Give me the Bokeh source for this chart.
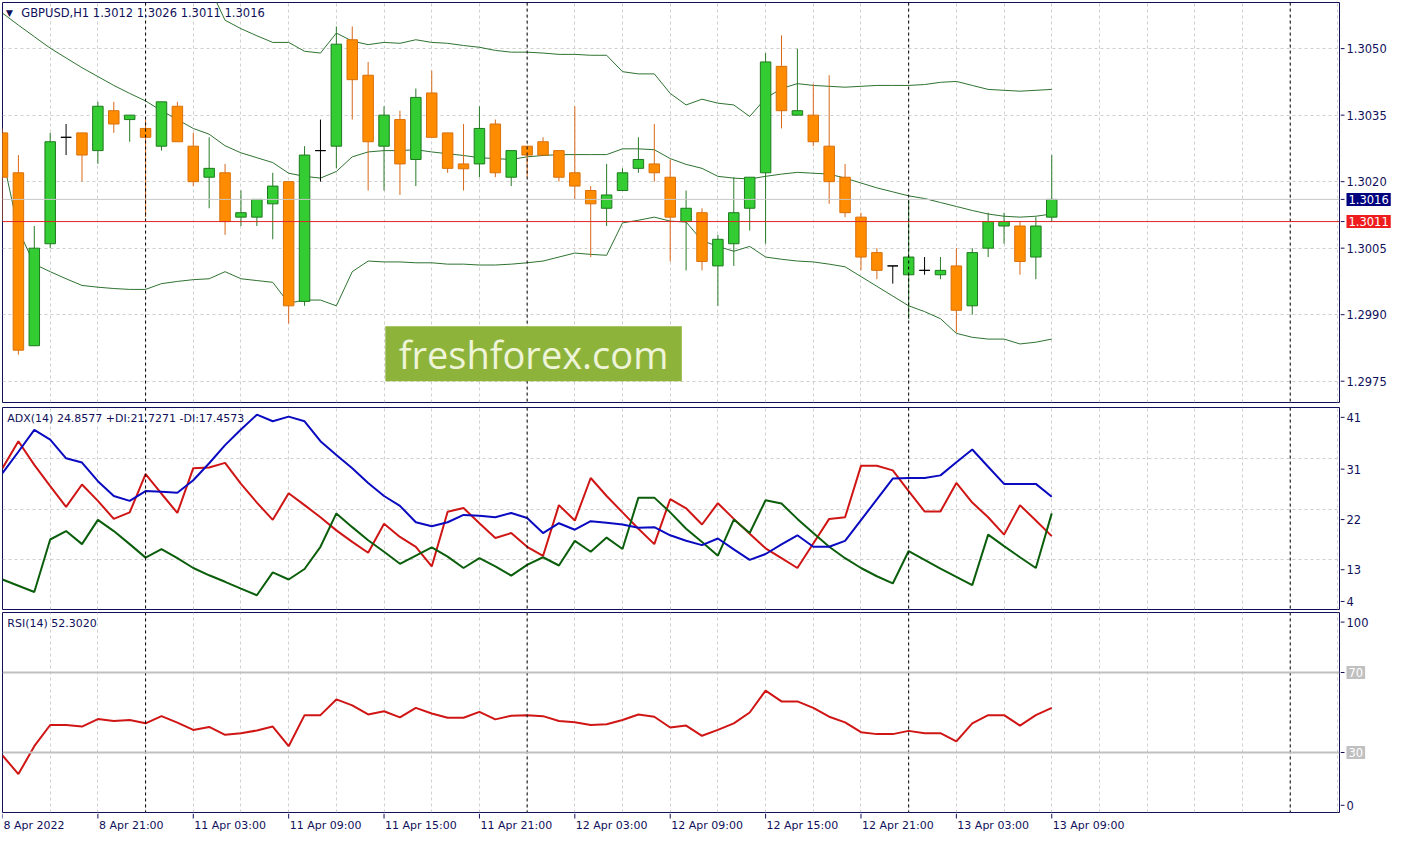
import numpy as np
from bokeh.plotting import figure
from bokeh.models import (Range1d, FixedTicker, Grid, Span, Label, BoxAnnotation,
                          ColumnDataSource, Spacer)
from bokeh.layouts import column, row
from bokeh.embed import file_html
from bokeh.resources import INLINE

# ---------------- data ----------------
symbol_title = "GBPUSD,H1  1.3012 1.3026 1.3011 1.3016"
adx_title = "ADX(14) 24.8577 +DI:21.7271 -DI:17.4573"
rsi_title = "RSI(14) 52.3020"

opens = [1.3031, 1.3022, 1.2983, 1.3006, 1.3030, 1.3031, 1.3027, 1.3036, 1.3034, 1.3032,
         1.3028, 1.3037, 1.3028, 1.3021, 1.3022, 1.3012, 1.3012, 1.3015, 1.3020, 1.2993,
         1.3027, 1.3028, 1.3052, 1.3044, 1.3028, 1.3034, 1.3025, 1.3040, 1.3031, 1.30240,
         1.3024, 1.3033, 1.3021, 1.3028, 1.3029, 1.3027, 1.3022, 1.3018, 1.3014, 1.3018,
         1.3023, 1.3024, 1.3021, 1.3011, 1.3013, 1.3001, 1.3006, 1.3014, 1.3022, 1.3046,
         1.3035, 1.3035, 1.3028, 1.3021, 1.3012, 1.3004, 1.3001, 1.2999, 1.3000, 1.2999,
         1.3001, 1.2992, 1.3005, 1.3010, 1.3010, 1.3003, 1.3012]
highs = [1.3032, 1.3026, 1.3010, 1.3031, 1.3033, 1.3031, 1.3038, 1.3038, 1.3035, 1.3034,
         1.3038, 1.3038, 1.3031, 1.3030, 1.3024, 1.3018, 1.3016, 1.3022, 1.3020, 1.3028,
         1.3034, 1.3055, 1.3055, 1.3047, 1.3037, 1.3036, 1.3041, 1.3045, 1.3031, 1.3033,
         1.3037, 1.3034, 1.3027, 1.3028, 1.3030, 1.3027, 1.3037, 1.3019, 1.3024, 1.3023,
         1.3030, 1.3033, 1.3025, 1.3018, 1.3014, 1.3008, 1.3021, 1.3021, 1.3049, 1.3053,
         1.3050, 1.3042, 1.3044, 1.3024, 1.3013, 1.3005, 1.3001, 1.3016, 1.3003, 1.3003,
         1.3005, 1.3005, 1.3013, 1.3013, 1.3011, 1.3012, 1.3026]
lows = [1.3011, 1.2981, 1.2983, 1.3005, 1.3026, 1.3020, 1.3024, 1.3031, 1.3029, 1.3012,
        1.3027, 1.3029, 1.3019, 1.3014, 1.3008, 1.3010, 1.3010, 1.3007, 1.2988, 1.2992,
        1.3020, 1.3023, 1.3034, 1.3018, 1.3018, 1.3017, 1.3019, 1.3030, 1.3022, 1.3018,
        1.3021, 1.3021, 1.3019, 1.3021, 1.3026, 1.3020, 1.3016, 1.3003, 1.3010, 1.3018,
        1.3022, 1.3020, 1.3002, 1.3000, 1.3000, 1.2992, 1.3001, 1.3009, 1.3006, 1.3032,
        1.3035, 1.3028, 1.3015, 1.3012, 1.3000, 1.2998, 1.2997, 1.2989, 1.2999, 1.2998,
        1.2986, 1.2990, 1.3003, 1.3006, 1.2999, 1.2998, 1.3011]
closes = [1.3021, 1.2982, 1.3005, 1.3029, 1.3030, 1.3026, 1.3037, 1.3033, 1.3035, 1.3030,
          1.3038, 1.3029, 1.3020, 1.3023, 1.3011, 1.3013, 1.3016, 1.3019, 1.2992, 1.3026,
          1.3027, 1.3051, 1.3043, 1.3029, 1.3035, 1.3024, 1.3039, 1.3030, 1.3023, 1.30229,
          1.3032, 1.3022, 1.3027, 1.3026, 1.3026, 1.3021, 1.3019, 1.3015, 1.3017, 1.3022,
          1.3025, 1.3022, 1.3012, 1.3014, 1.3002, 1.3007, 1.3013, 1.3021, 1.3047, 1.3036,
          1.3036, 1.3029, 1.3020, 1.3013, 1.3003, 1.3000, 1.3001, 1.3003, 1.3000, 1.3000,
          1.2991, 1.3004, 1.3011, 1.3011, 1.3002, 1.3010, 1.3016]

bb_upper = [None] * 13 + [
    1.30640, 1.30564, 1.30545, 1.30529, 1.30514, 1.30514, 1.30494, 1.30490, 1.30535, 1.30517,
    1.30509, 1.30514, 1.30512, 1.30520, 1.30514, 1.30512, 1.30507, 1.30503, 1.30496, 1.30492,
    1.30492, 1.30490, 1.30487, 1.30487, 1.30485, 1.30485, 1.30448, 1.30443, 1.30443, 1.30399,
    1.30373, 1.30386, 1.30377, 1.30373, 1.30347, 1.30388, 1.30410, 1.30421, 1.30417, 1.30415,
    1.30413, 1.30415, 1.30417, 1.30417, 1.30417, 1.30419, 1.30424, 1.30426, 1.30417, 1.30408,
    1.30406, 1.30404, 1.30406, 1.30408]
bb_middle = [1.30580, 1.30553, 1.30527, 1.30501, 1.30479, 1.30457, 1.30437, 1.30417, 1.30399, 1.30382,
             1.30360, 1.30340, 1.30320, 1.30307, 1.30281, 1.30265, 1.30254, 1.30243, 1.30219, 1.30212,
             1.30208, 1.30223, 1.30256, 1.30267, 1.30270, 1.30270, 1.30272, 1.30267, 1.30263, 1.30259,
             1.30254, 1.30252, 1.30250, 1.30256, 1.30259, 1.30261, 1.30261, 1.30261, 1.30261, 1.30274,
             1.30274, 1.30272, 1.30252, 1.30239, 1.30230, 1.30212, 1.30208, 1.30206, 1.30212, 1.30217,
             1.30221, 1.30219, 1.30217, 1.30208, 1.30197, 1.30186, 1.30177, 1.30168, 1.30162, 1.30153,
             1.30144, 1.30135, 1.30127, 1.30122, 1.30120, 1.30122, 1.30127]
bb_lower = [1.30256, 1.30091, 1.30014, 1.29997, 1.29981, 1.29966, 1.29962, 1.29959, 1.29957, 1.29957,
            1.29970, 1.29975, 1.29979, 1.29981, 1.29997, 1.29981, 1.29977, 1.29973, 1.29926, 1.29933,
            1.29933, 1.29920, 1.29997, 1.30021, 1.30019, 1.30019, 1.30017, 1.30017, 1.30014, 1.30014,
            1.30012, 1.30012, 1.30014, 1.30017, 1.30021, 1.30030, 1.30039, 1.30036, 1.30034, 1.30107,
            1.30113, 1.30120, 1.30111, 1.30109, 1.30067, 1.30054, 1.30043, 1.30054, 1.30030, 1.30025,
            1.30021, 1.30019, 1.30014, 1.30008, 1.29986, 1.29964, 1.29942, 1.29920, 1.29907, 1.29891,
            1.29858, 1.29849, 1.29845, 1.29845, 1.29834, 1.29838, 1.29845]

adx = [29.29, 33.29, 37.41, 35.56, 32.06, 31.26, 27.76, 24.99, 24.07, 25.91,
       25.78, 25.60, 27.94, 31.13, 34.53, 37.48, 40.25, 39.01, 39.88, 39.01,
       35.27, 32.68, 30.21, 27.44, 24.99, 23.14, 20.06, 19.32, 20.06, 21.43,
       21.30, 20.99, 21.80, 20.87, 18.03, 19.88, 18.66, 20.25, 19.95, 19.64,
       19.03, 19.14, 17.61, 16.59, 15.76, 17.00, 14.97, 13.00, 14.10, 15.89,
       17.61, 15.45, 15.45, 16.56, 20.47, 24.34, 28.25, 28.37, 28.37, 28.86,
       31.32, 33.72, 30.47, 27.26, 27.26, 27.26, 24.86]
plus_di = [9.31, 8.14, 6.96, 16.82, 18.40, 15.95, 20.51, 18.40, 15.95, 13.42,
           15.03, 13.31, 11.47, 10.10, 8.88, 7.59, 6.35, 10.65, 9.31, 11.28,
           15.45, 21.72, 19.14, 16.69, 14.53, 12.26, 13.79, 15.34, 13.61, 11.47,
           13.31, 11.76, 10.04, 12.07, 13.49, 11.94, 16.56, 14.53, 17.18, 15.03,
           24.68, 24.68, 21.91, 18.85, 16.37, 13.79, 20.56, 18.03, 24.20, 23.57,
           20.69, 18.03, 15.45, 13.31, 11.47, 9.92, 8.57, 14.66, 13.00, 11.34,
           9.80, 8.25, 17.74, 15.58, 13.49, 11.47, 21.73]
minus_di = [30.21, 35.27, 30.84, 26.83, 22.96, 27.15, 24.07, 20.69, 21.91, 29.10,
            25.41, 21.80, 30.21, 30.34, 31.21, 27.26, 23.75, 20.51, 25.49, 23.27,
            20.99, 18.53, 16.37, 14.34, 19.77, 17.30, 15.45, 11.76, 22.04, 22.72,
            19.88, 17.11, 18.03, 15.45, 13.73, 23.27, 20.38, 28.37, 24.99, 21.91,
            18.85, 15.95, 24.38, 22.68, 19.64, 23.64, 20.69, 17.92, 15.16, 13.31,
            11.47, 16.08, 20.69, 20.99, 30.65, 30.65, 29.79, 25.91, 22.09, 22.09,
            27.44, 23.75, 20.99, 17.74, 23.27, 20.38, 17.46]
rsi = [28.53, 19.19, 33.14, 43.76, 43.76, 42.97, 46.71, 45.72, 46.22, 44.59,
       48.18, 44.94, 41.30, 42.78, 38.85, 39.68, 41.01, 42.97, 33.14, 48.67,
       48.67, 56.54, 53.59, 49.02, 50.64, 47.54, 52.31, 49.51, 47.40, 47.40,
       50.34, 46.56, 48.38, 48.67, 48.18, 45.72, 45.09, 43.76, 44.10, 46.22,
       49.02, 47.89, 42.48, 43.46, 38.35, 41.30, 44.59, 50.00, 60.96, 55.55,
       55.55, 52.31, 47.89, 45.09, 40.17, 39.19, 39.19, 40.81, 39.68, 39.68,
       35.60, 44.59, 48.67, 48.67, 43.46, 48.67, 52.30]

tick_bars = [0, 6, 12, 18, 24, 30, 36, 42, 48, 54, 60, 66]
tick_labels = ["8 Apr 2022", "8 Apr 21:00", "11 Apr 03:00", "11 Apr 09:00", "11 Apr 15:00",
               "11 Apr 21:00", "12 Apr 03:00", "12 Apr 09:00", "12 Apr 15:00", "12 Apr 21:00",
               "13 Apr 03:00", "13 Apr 09:00"]
day_separators = [9, 33, 57, 81]
price_ticks = [1.2975, 1.2990, 1.3005, 1.3020, 1.3035, 1.3050]
price_tick_labels = ["1.2975", "1.2990", "1.3005", "1.3020", "1.3035", "1.3050"]
bid_line = 1.3011
adx_label_levels = [39.75, 30.03, 20.56, 11.15, 5.19]
adx_label_text = ["41", "31", "22", "13", "4"]
adx_grid_levels = [31.94, 22.54, 13.13]
rsi_label_levels = [3.6, 95.2]
rsi_label_text = ["0", "100"]
rsi_levels = [30, 70]

# ---------------- styling ----------------
PW = 1340          # width of each panel figure
AW = 54            # width of right-hand scale column
FONT = "DejaVu Sans"
NAVY = "#10105a"
GRIDC = "#cfcfcf"
X_END = 84.1
x_range = Range1d(0, X_END)
grid_bars = list(range(0, 85, 3))

n = len(opens)
xs = list(range(n))


def base_fig(height, y_range, top, bottom):
    p = figure(width=PW, height=height, x_range=x_range, y_range=y_range,
               output_backend="svg", toolbar_location=None, tools="",
               x_axis_location=None, y_axis_location=None,
               min_border_left=2, min_border_right=1,
               min_border_top=top, min_border_bottom=bottom)
    p.grid.visible = False
    p.outline_line_color = NAVY
    p.outline_line_width = 1
    p.background_fill_color = "white"
    p.border_fill_color = "white"
    p.add_layout(Grid(dimension=0, ticker=FixedTicker(ticks=grid_bars),
                      grid_line_color=GRIDC, grid_line_dash="3 3"))
    for s in day_separators:
        p.add_layout(Span(location=s, dimension="height", line_color="black",
                          line_dash="3 3", line_width=1))
    return p


def scale_fig(height, y_range, top, bottom, levels, texts, boxes=()):
    a = figure(width=AW, height=height, x_range=Range1d(0, AW), y_range=y_range,
               output_backend="svg", toolbar_location=None, tools="",
               x_axis_location=None, y_axis_location=None,
               min_border_left=0, min_border_right=0,
               min_border_top=top, min_border_bottom=bottom)
    a.grid.visible = False
    a.outline_line_color = None
    a.background_fill_color = "white"
    a.border_fill_color = "white"
    tick_levels = list(levels) + [b[0] for b in boxes]
    a.segment(x0=[0] * len(tick_levels), y0=tick_levels, x1=[4] * len(tick_levels),
              y1=tick_levels, line_color=NAVY, line_width=1)
    for lv, t in zip(levels, texts):
        a.add_layout(Label(x=6, y=lv, text=t, text_align="left", text_baseline="middle",
                           text_font=FONT, text_font_size="11.5px", text_color=NAVY))
    for lv, t, bg in boxes:
        a.add_layout(Label(x=6, y=lv, text=t, text_align="left", text_baseline="middle",
                           text_font=FONT, text_font_size="11.5px", text_color="white",
                           background_fill_color=bg, padding=2))
    return a


# ---------------- main price panel ----------------
yr1 = Range1d(1.29702, 1.30604)
p1 = base_fig(404, yr1, 2, 2)
p1.add_layout(Grid(dimension=1, ticker=FixedTicker(ticks=price_ticks),
                   grid_line_color=GRIDC, grid_line_dash="3 3"))
p1.add_layout(Span(location=closes[-1], dimension="width", line_color="#c8c8c8", line_width=1))
p1.add_layout(Span(location=bid_line, dimension="width", line_color="#e02424", line_width=1))

BB = "#2e7230"
p1.line(xs, np.array(bb_upper, dtype=float), line_color=BB, line_width=1)
p1.line(xs, bb_middle, line_color=BB, line_width=1)
p1.line(xs, bb_lower, line_color=BB, line_width=1)

fill, edge, wick, tops, bots = [], [], [], [], []
for o, c in zip(opens, closes):
    if c > o:
        fill.append("#33cc33"); edge.append("#1e7a1e"); wick.append("#2a7a2a")
    elif c < o:
        fill.append("#ff8c00"); edge.append("#d9700a"); wick.append("#d8681a")
    else:
        fill.append("black"); edge.append("black"); wick.append("black")
    tops.append(max(o, c)); bots.append(min(o, c))

src = ColumnDataSource(dict(x=xs, high=highs, low=lows, top=tops, bottom=bots,
                            fill=fill, edge=edge, wick=wick))
p1.segment(x0="x", y0="low", x1="x", y1="high", line_color="wick", line_width=1, source=src)
p1.vbar(x="x", width=0.66, top="top", bottom="bottom", fill_color="fill",
        line_color="edge", line_width=1, source=src)

# watermark
p1.add_layout(BoxAnnotation(left=24.08, right=42.73, bottom=1.29750, top=1.29874,
                            fill_color="#8db33a", fill_alpha=1.0, line_color=None))
p1.add_layout(Label(x=33.4, y=1.29812, text="freshforex.com", text_align="center",
                    text_baseline="middle", text_font="Open Sans", text_font_size="38px",
                    text_color="#eef4d8"))

p1.add_layout(Label(x=0.22, y=1.30580, text="\u25BC", text_baseline="middle",
                    text_font=FONT, text_font_size="9px", text_color=NAVY))
p1.add_layout(Label(x=1.18, y=1.30580, text=symbol_title, text_baseline="middle",
                    text_font=FONT, text_font_size="11.5px", text_color=NAVY))

a1 = scale_fig(404, yr1, 2, 2, price_ticks, price_tick_labels,
               boxes=[(closes[-1], "%.4f" % closes[-1], "#00007f"),
                      (bid_line, "%.4f" % bid_line, "#ee1c1c")])

# ---------------- ADX panel ----------------
yr2 = Range1d(3.68, 41.6)
p2 = base_fig(206, yr2, 3, 1)
p2.add_layout(Grid(dimension=1, ticker=FixedTicker(ticks=adx_grid_levels),
                   grid_line_color=GRIDC, grid_line_dash="3 3"))
p2.line(xs, minus_di, line_color="#d01515", line_width=2)
p2.line(xs, plus_di, line_color="#0b5e0b", line_width=2)
p2.line(xs, adx, line_color="#0a0ac0", line_width=2)
p2.add_layout(Label(x=0.3, y=39.6, text=adx_title, text_baseline="middle",
                    text_font=FONT, text_font_size="11px", text_color=NAVY))
a2 = scale_fig(206, yr2, 3, 1, adx_label_levels, adx_label_text)

# ---------------- RSI panel ----------------
yr3 = Range1d(0, 100)
p3 = base_fig(203, yr3, 2, 1)
for lv in rsi_levels:
    p3.add_layout(Span(location=lv, dimension="width", line_color="#c0c0c0", line_width=2))
p3.line(xs, rsi, line_color="#d01515", line_width=2)
p3.add_layout(Label(x=0.3, y=94.7, text=rsi_title, text_baseline="middle",
                    text_font=FONT, text_font_size="11px", text_color=NAVY))
a3 = scale_fig(203, yr3, 2, 1, rsi_label_levels, rsi_label_text,
               boxes=[(lv, str(lv), "#c0c0c0") for lv in rsi_levels])

# ---------------- time scale ----------------
px = figure(width=PW, height=19, x_range=x_range, y_range=Range1d(0, 19),
            output_backend="svg", toolbar_location=None, tools="",
            x_axis_location=None, y_axis_location=None,
            min_border_left=2, min_border_right=1, min_border_top=0, min_border_bottom=0)
px.grid.visible = False
px.outline_line_color = None
px.segment(x0=tick_bars, y0=[19] * len(tick_bars), x1=tick_bars, y1=[14] * len(tick_bars),
           line_color=NAVY, line_width=1)
for b, t in zip(tick_bars, tick_labels):
    px.add_layout(Label(x=b, y=14, x_offset=1, text=t, text_align="left",
                        text_baseline="top", text_font=FONT, text_font_size="11px",
                        text_color=NAVY))

layout = column(row(p1, a1), row(p2, a2), row(p3, a3), row(px, Spacer(width=AW, height=19)))
open("out.html", "w").write(file_html(layout, INLINE))
